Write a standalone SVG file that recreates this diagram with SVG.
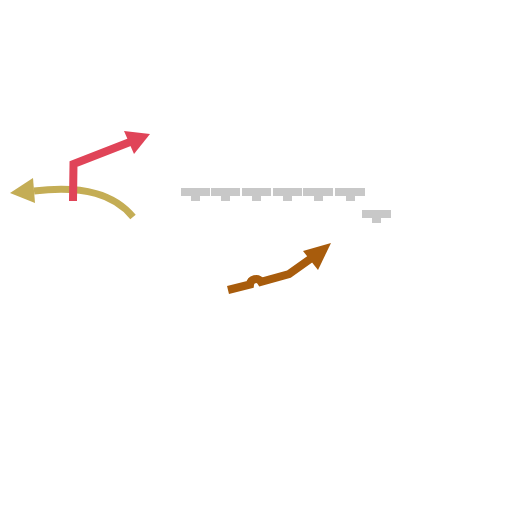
<svg xmlns="http://www.w3.org/2000/svg" width="512" height="512" viewBox="0 0 512 512">
<style>
.ln{fill:none;stroke-linejoin:miter}
.gray{fill:#c8c8c8}
</style>
<rect width="512" height="512" fill="#ffffff"/>
<g id="wall">
<g class="gray">
<rect x="181" y="188" width="29" height="8"/><rect x="191" y="195" width="9" height="6"/>
<rect x="211" y="188" width="29" height="8"/><rect x="221" y="195" width="9" height="6"/>
<rect x="242" y="188" width="29" height="8"/><rect x="252" y="195" width="9" height="6"/>
<rect x="273" y="188" width="29" height="8"/><rect x="283" y="195" width="9" height="6"/>
<rect x="303" y="188" width="30" height="8"/><rect x="314" y="195" width="9" height="6"/>
<rect x="335" y="188" width="30" height="8"/><rect x="346" y="195" width="9" height="6"/>
<rect x="362" y="210" width="29" height="8"/><rect x="372" y="217" width="9" height="6"/>
</g>
</g>
<g id="connectors">
<g id="yellow-arrow">
<path class="ln" d="M133,217 C115,195 85,185 34,191" stroke="#c4ad55" stroke-width="7"/>
<polygon points="10,193 33,178 35,203" fill="#c4ad55"/>
</g>
<g id="red-arrow">
<path class="ln" d="M73,201 L73.5,164 L130,142" stroke="#e04458" stroke-width="8"/>
<polygon points="150,134 124,131 134,154" fill="#e04458"/>
</g>
<g id="brown-arrow">
<path class="ln" d="M228,290 L250,284.5 A6,6 0 0 1 261,281.8 L289,274 L313,257" stroke="#a85c0c" stroke-width="8"/>
<polygon points="331,243 303,251 318,270" fill="#a85c0c"/>
</g>
</g>
</svg>
